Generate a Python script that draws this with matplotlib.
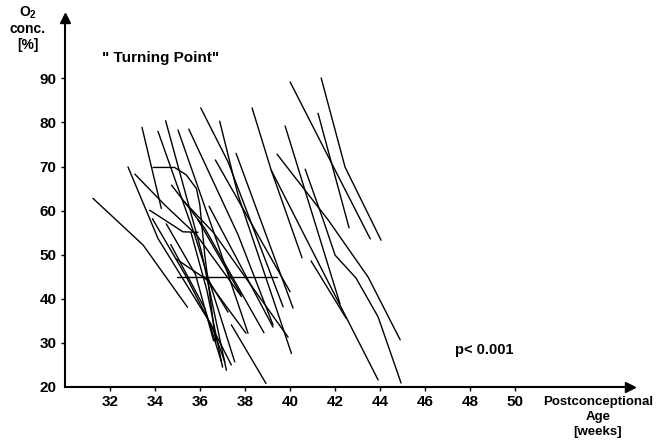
import matplotlib
matplotlib.use("Agg")
import matplotlib.pyplot as plt

# Postconceptional age (weeks) and O2 concentration (%) for each infant trace
curves_x = [
    [31.24, 33.47, 35.44],
    [32.80, 34.13, 36.50, 37.10],
    [33.10, 34.43, 35.84, 37.84],
    [33.42, 34.28],
    [34.13, 35.76, 37.54],
    [34.47, 36.06, 37.17],
    [35.02, 36.65, 38.13],
    [35.50, 37.69, 39.24],
    [36.03, 37.24, 39.69],
    [36.87, 37.69, 40.06],
    [36.68, 40.00],
    [34.70, 36.21, 36.95],
    [33.88, 35.39, 37.39],
    [33.76, 35.24, 35.91],
    [33.91, 34.87, 35.39, 35.84, 35.99, 36.21, 36.70],
    [34.99, 39.44],
    [34.73, 36.21, 38.84],
    [37.39, 38.93],
    [35.30, 36.60, 39.91],
    [36.20, 38.04],
    [35.90, 37.82],
    [36.40, 39.24],
    [37.60, 40.13],
    [34.95, 36.40, 37.24],
    [35.60, 36.30, 37.00],
    [34.50, 35.80, 36.60],
    [38.31, 39.16, 40.53],
    [39.16, 43.91],
    [39.78, 42.22],
    [39.42, 41.69, 43.47, 44.89],
    [40.67, 41.47, 42.00, 42.93, 43.91, 44.93],
    [40.93, 42.49],
    [40.00, 43.56],
    [41.24, 42.62],
    [41.38, 42.44, 44.04],
]
curves_y = [
    [62.8, 52.2, 38.1],
    [69.9, 53.7, 34.1, 25.7],
    [68.3, 61.3, 54.5, 40.5],
    [78.9, 60.5],
    [78.0, 54.5, 25.7],
    [80.4, 50.7, 23.8],
    [78.3, 54.5, 32.2],
    [78.5, 54.5, 34.1],
    [83.3, 71.1, 38.2],
    [80.3, 63.5, 27.6],
    [71.5, 41.6],
    [52.3, 37.8, 25.7],
    [58.2, 45.0, 25.0],
    [60.1, 55.2, 55.1],
    [69.8, 69.8, 68.1, 65.0, 61.3, 49.9, 30.0],
    [45.0, 45.0],
    [65.8, 56.0, 32.3],
    [34.1, 20.8],
    [62.0, 55.0, 31.3],
    [45.0, 32.2],
    [58.0, 40.9],
    [61.0, 33.6],
    [73.0, 37.9],
    [49.0, 44.0, 37.0],
    [55.0, 42.0, 24.5],
    [57.0, 45.5, 30.5],
    [83.3, 69.2, 49.3],
    [69.2, 21.6],
    [79.2, 38.8],
    [72.8, 57.9, 44.9, 30.7],
    [69.4, 57.9, 49.9, 44.7, 35.9, 20.9],
    [48.6, 35.6],
    [89.2, 53.6],
    [82.1, 56.1],
    [90.1, 69.9, 53.3],
]

x_ticks = [32, 34, 36, 38, 40, 42, 44, 46, 48, 50]
y_ticks = [20, 30, 40, 50, 60, 70, 80, 90]

plt.rcParams['font.family'] = ['Liberation Sans', 'DejaVu Sans']
plt.rcParams['mathtext.fontset'] = 'custom'
plt.rcParams['mathtext.rm'] = 'Liberation Sans'
plt.rcParams['mathtext.bf'] = 'Liberation Sans:bold'

fig = plt.figure(figsize=(6.68, 4.41), dpi=100)
ax = fig.add_axes([65/668, 1 - 387/441, (630 - 65)/668, (387 - 18)/441])
ax.set_xlim(30, 55.1)
ax.set_ylim(20, 103.7)

for xs, ys in zip(curves_x, curves_y):
    ax.plot(xs, ys, color='black', lw=1.0, solid_capstyle='round')

for s in ['top', 'right']:
    ax.spines[s].set_visible(False)
for s in ['left', 'bottom']:
    ax.spines[s].set_linewidth(1.5)
    ax.spines[s].set_color('black')

ax.set_xticks(x_ticks)
ax.set_yticks(y_ticks)
ax.set_xticklabels([str(t) for t in x_ticks], fontsize=11, fontweight='bold')
ax.set_yticklabels([str(t) for t in y_ticks], fontsize=11, fontweight='bold')
ax.tick_params(axis='both', length=3, width=1, direction='out', pad=3)
ax.yaxis.get_major_ticks()[0].tick1line.set_visible(False)

# arrow heads
ax.plot([55.1], [20], marker='>', color='black', markersize=7, clip_on=False)
ax.plot([30], [103.7], marker='^', color='black', markersize=7, clip_on=False)

fig.text(28/668, 1 - 28/441, "O$_\\mathbf{2}$\nconc.\n[%]", ha='center', va='center',
         fontsize=10, fontweight='bold', linespacing=1.15)
fig.text(102/668, 1 - 58/441, '" Turning Point"', ha='left', va='center',
         fontsize=11, fontweight='bold')
fig.text(455/668, 1 - 350/441, 'p< 0.001', ha='left', va='center',
         fontsize=10.5, fontweight='bold')
fig.text(598/668, 1 - 417/441, "Postconceptional\nAge\n[weeks]", ha='center', va='center',
         fontsize=9.5, fontweight='bold', linespacing=1.3)

fig.savefig('out.png', dpi=100, facecolor='white')
